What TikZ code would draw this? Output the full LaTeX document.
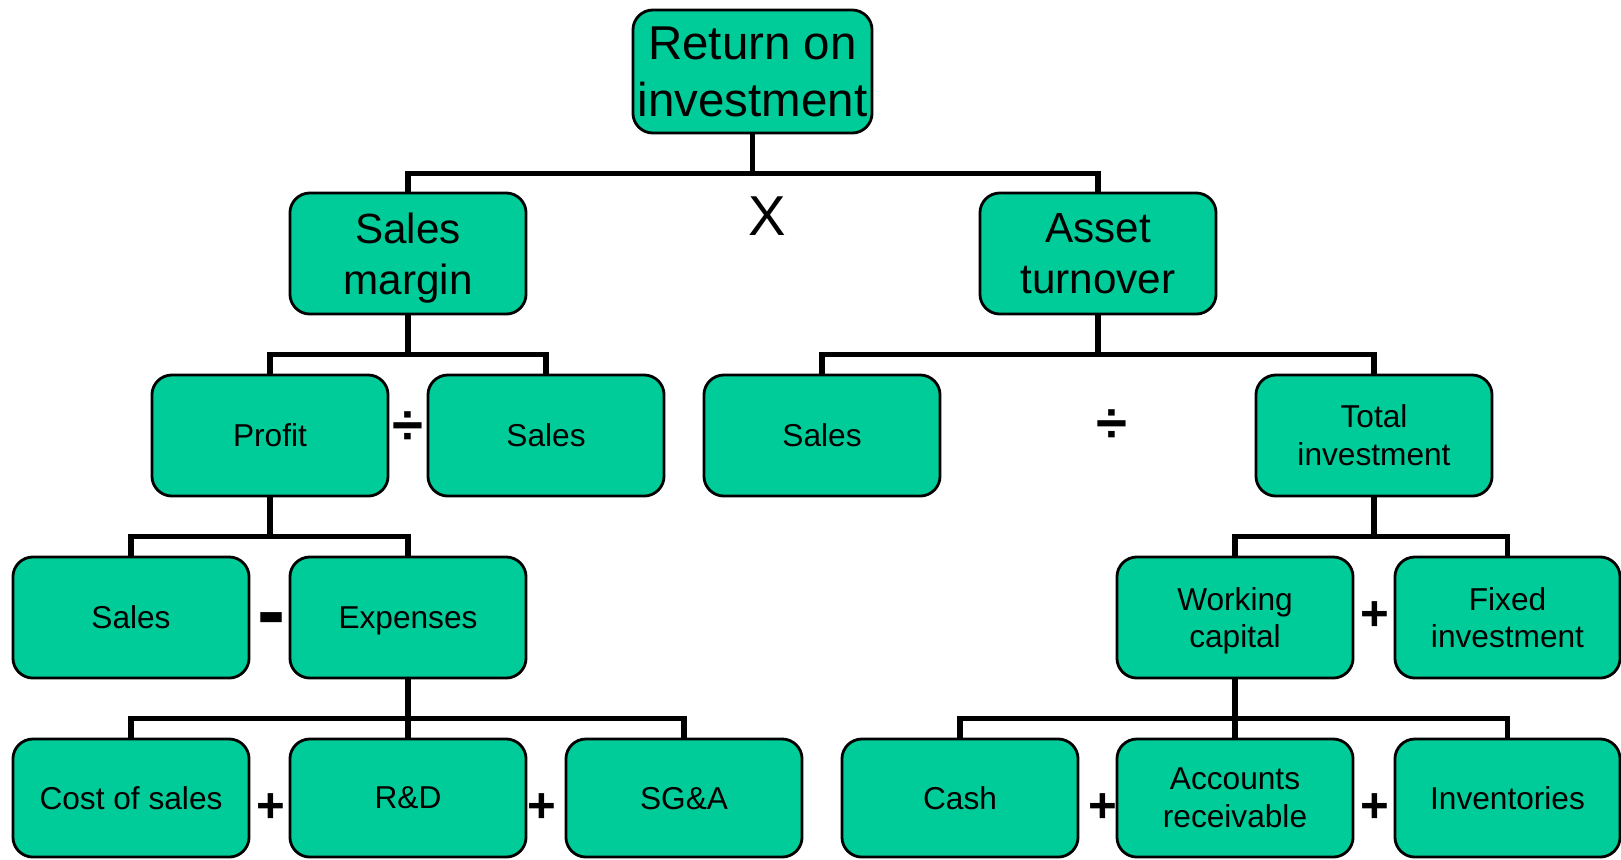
\documentclass[tikz,border=0pt]{standalone}
\usepackage{fontspec}
\setmainfont{Liberation Sans}
\usetikzlibrary{positioning}
\definecolor{boxgreen}{RGB}{0,204,153}

\begin{document}
\begin{tikzpicture}[
  x=0.01cm,y=-0.01cm,
  box/.style={draw,line width=0.8pt,fill=boxgreen,rounded corners=0.2cm,
    minimum width=2.36cm,minimum height=1.21cm,inner sep=0pt,align=center,
    text depth=-0.1em,
    font=\fontsize{9}{10.8}\selectfont},
  bigbox/.style={box,font=\fontsize{12}{14.4}\selectfont},
  link/.style={line width=1.6pt},
  op/.style={inner sep=0pt,font=\fontsize{14}{14}\selectfont\bfseries}
]
\useasboundingbox (0,0) rectangle (1621,859);

% --- top ---
\node[box,minimum width=2.39cm,minimum height=1.23cm,
      font=\fontsize{13.5}{16.2}\selectfont] (roi) at (752.5,71.5) {Return on\\investment};
\node[bigbox] (sm) at (408,253.5)  {Sales\\margin};
\node[bigbox] (at) at (1098,253.5) {Asset\\turnover};
\node[font=\fontsize{16}{16}\selectfont] (times) at (767,216) {X};

% --- sales margin side ---
\node[box] (profit) at (270,435.5) {Profit};
\node[box] (salesa) at (546,435.5) {Sales};
\node[box] (salesc) at (131,617.5) {Sales};
\node[box] (exp)    at (408,617.5) {Expenses};
\node[box,minimum height=1.18cm] (cos) at (131,798) {Cost of sales};
\node[box,minimum height=1.18cm] (rd)  at (408,798) {R\&D};
\node[box,minimum height=1.18cm] (sga) at (684,798) {SG\&A};

% --- asset turnover side ---
\node[box] (salesb) at (822,435.5)  {Sales};
\node[box] (totinv) at (1374,435.5) {Total\\investment};
\node[box] (wc)     at (1235,617.5) {Working\\capital};
\node[box,minimum width=2.25cm] (fixinv) at (1507.5,617.5) {Fixed\\investment};
\node[box,minimum height=1.18cm] (cash) at (960,798)  {Cash};
\node[box,minimum height=1.18cm] (ar)   at (1235,798) {Accounts\\receivable};
\node[box,minimum height=1.18cm,minimum width=2.25cm] (inv) at (1507.5,798) {Inventories};

% --- operators ---
\node[op,font=\fontsize{16}{16}\selectfont\bfseries] (div1) at (408,428)  {÷};
\node[op,font=\fontsize{16}{16}\selectfont\bfseries] (div2) at (1112,426) {÷};
\node[op,font=\fontsize{24}{24}\selectfont\bfseries] (minus) at (272,626) {-};
\node[op] (plus1) at (271,808)  {+};
\node[op] (plus2) at (542,808)  {+};
\node[op] (plus3) at (1103,808) {+};
\node[op] (plus4) at (1375,808) {+};
\node[op] (plus5) at (1375,616) {+};

% --- connectors ---
\draw[link] (roi.south) -- ++(0,39) coordinate (b0);
\draw[link] (sm.north) |- (b0) -| (at.north);
\draw[link] (sm.south) -- ++(0,39) coordinate (b1);
\draw[link] (profit.north) |- (b1) -| (salesa.north);
\draw[link] (at.south) -- ++(0,39) coordinate (b2);
\draw[link] (salesb.north) |- (b2) -| (totinv.north);
\draw[link] (profit.south) -- ++(0,39) coordinate (b3);
\draw[link] (salesc.north) |- (b3) -| (exp.north);
\draw[link] (totinv.south) -- ++(0,39) coordinate (b4);
\draw[link] (wc.north) |- (b4) -| (fixinv.north);
\draw[link] (exp.south) -- ++(0,39) coordinate (b5);
\draw[link] (cos.north) |- (b5) -| (sga.north);
\draw[link] (b5) -- (rd.north);
\draw[link] (wc.south) -- ++(0,39) coordinate (b6);
\draw[link] (cash.north) |- (b6) -| (inv.north);
\draw[link] (b6) -- (ar.north);
\end{tikzpicture}
\end{document}
